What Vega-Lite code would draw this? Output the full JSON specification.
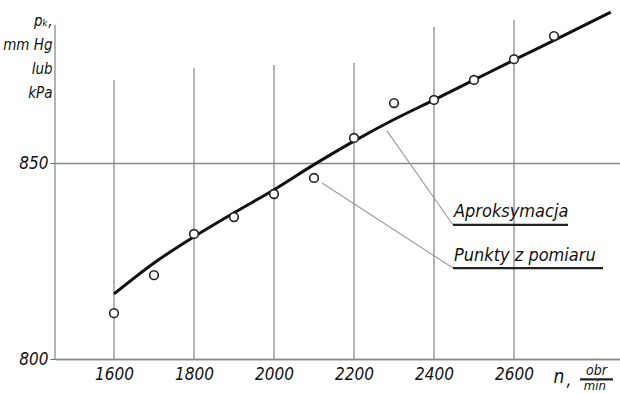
{
  "$schema": "https://vega.github.io/schema/vega-lite/v6.json",
  "width": 565,
  "height": 359,
  "autosize": {"type": "none"},
  "padding": {"left": 55, "top": 0, "right": 0, "bottom": 35},
  "background": "white",
  "config": {
    "view": {"stroke": null},
    "font": "Liberation Sans Narrow, DejaVu Sans Condensed, DejaVu Sans",
    "text": {"font": "Liberation Sans Narrow, DejaVu Sans Condensed, DejaVu Sans", "fontStyle": "italic"}
  },
  "datasets": {
    "points": [
      {"x": 1600, "y": 811.7}, {"x": 1700, "y": 821.4}, {"x": 1800, "y": 831.9},
      {"x": 1900, "y": 836.2}, {"x": 2000, "y": 842.1}, {"x": 2100, "y": 846.2},
      {"x": 2200, "y": 856.4}, {"x": 2300, "y": 865.3}, {"x": 2400, "y": 866.1},
      {"x": 2500, "y": 871.2}, {"x": 2600, "y": 876.5}, {"x": 2700, "y": 882.4}
    ],
    "curve": [
      {"x": 1600, "y": 816.6}, {"x": 1700, "y": 824.5}, {"x": 1800, "y": 831.2},
      {"x": 1900, "y": 837.3}, {"x": 2000, "y": 843.2}, {"x": 2100, "y": 849.6},
      {"x": 2200, "y": 855.6}, {"x": 2300, "y": 861.1}, {"x": 2400, "y": 866.1},
      {"x": 2500, "y": 871.2}, {"x": 2600, "y": 876.3}, {"x": 2700, "y": 881.3},
      {"x": 2842, "y": 888.5}
    ],
    "vgrid": [
      {"x": 1600, "y": 800, "y2": 871.2}, {"x": 1800, "y": 800, "y2": 874.2},
      {"x": 2000, "y": 800, "y2": 875.0}, {"x": 2200, "y": 800, "y2": 875.5},
      {"x": 2400, "y": 800, "y2": 884.7}, {"x": 2600, "y": 800, "y2": 886.5},
      {"x": 1452.5, "y": 800, "y2": 885.2}
    ],
    "leaders": [
      {"x": 2282.5, "y": 858.2, "x2": 2447.5, "y2": 834.2},
      {"x": 2120, "y": 844.9, "x2": 2447.5, "y2": 823.2}
    ],
    "underlines": [
      {"x": 2447.5, "x2": 2735, "y": 834.2},
      {"x": 2447.5, "x2": 2822.5, "y": 823.2},
      {"x": 2765, "x2": 2847.5, "y": 794.8}
    ],
    "labels": [
      {"x": 2450, "y": 836.3, "t": "Aproksymacja"},
      {"x": 2450, "y": 825.0, "t": "Punkty z pomiaru"}
    ],
    "unit": [
      {"x": 2712, "y": 794.0, "t": "n", "s": 19},
      {"x": 2737, "y": 793.2, "t": ",", "s": 17},
      {"x": 2806, "y": 795.8, "t": "obr", "s": 14},
      {"x": 2802, "y": 792.0, "t": "min", "s": 13}
    ]
  },
  "encoding": {
    "x": {"field": "x", "type": "quantitative", "scale": {"domain": [1452.5, 2865], "nice": false, "zero": false}},
    "y": {"field": "y", "type": "quantitative", "scale": {"domain": [800, 891.6], "nice": false, "zero": false}}
  },
  "layer": [
    {
      "data": {"name": "vgrid"},
      "mark": {"type": "rule", "color": "#8a8a8a", "strokeWidth": 1.3},
      "encoding": {
        "x": {"field": "x", "type": "quantitative",
          "axis": {"values": [1600, 1800, 2000, 2200, 2400, 2600], "format": "d", "title": null, "ticks": false, "grid": false,
            "domainColor": "#888888", "domainWidth": 1.3, "labelFontSize": 17, "labelFontStyle": "italic",
            "labelColor": "#111111", "labelPadding": 7, "labelFont": "Liberation Sans Narrow, DejaVu Sans Condensed, DejaVu Sans"}},
        "y": {"field": "y", "type": "quantitative",
          "axis": {"values": [800, 850], "format": "d", "grid": true, "gridColor": "#8a8a8a", "gridWidth": 1.3, "gridOpacity": 1,
            "domain": false, "tickSize": 5, "tickColor": "#666666", "labelFontSize": 17, "labelFontStyle": "italic",
            "labelColor": "#111111", "labelPadding": 2, "labelFont": "Liberation Sans Narrow, DejaVu Sans Condensed, DejaVu Sans",
            "title": ["pₖ,", "mm Hg", "lub", "kPa"], "titleAngle": 0, "titleAlign": "right", "titleBaseline": "alphabetic",
            "titleX": -3, "titleY": 25, "titleFontSize": 15, "titleFontStyle": "italic", "titleFontWeight": "normal",
            "titleLineHeight": 24, "titleColor": "#111111", "titleFont": "Liberation Sans Narrow, DejaVu Sans Condensed, DejaVu Sans"}},
        "y2": {"field": "y2"}
      }
    },
    {
      "data": {"name": "leaders"},
      "mark": {"type": "rule", "color": "#999999", "strokeWidth": 1.1},
      "encoding": {"x2": {"field": "x2"}, "y2": {"field": "y2"}}
    },
    {
      "data": {"name": "underlines"},
      "mark": {"type": "rule", "color": "#222222", "strokeWidth": 2.2},
      "encoding": {"x2": {"field": "x2"}}
    },
    {
      "data": {"name": "curve"},
      "mark": {"type": "line", "color": "#111111", "strokeWidth": 3, "interpolate": "monotone"},
      "encoding": {}
    },
    {
      "data": {"name": "points"},
      "mark": {"type": "point", "shape": "circle", "filled": true, "fill": "white", "stroke": "#222222", "strokeWidth": 1.6, "size": 75, "opacity": 1},
      "encoding": {}
    },
    {
      "data": {"name": "labels"},
      "mark": {"type": "text", "align": "left", "baseline": "alphabetic", "fontSize": 18, "color": "#111111"},
      "encoding": {"text": {"field": "t"}}
    },
    {
      "data": {"name": "unit"},
      "mark": {"type": "text", "align": "center", "baseline": "alphabetic", "color": "#111111"},
      "encoding": {"text": {"field": "t"}, "size": {"field": "s", "type": "quantitative", "scale": null}}
    }
  ]
}
